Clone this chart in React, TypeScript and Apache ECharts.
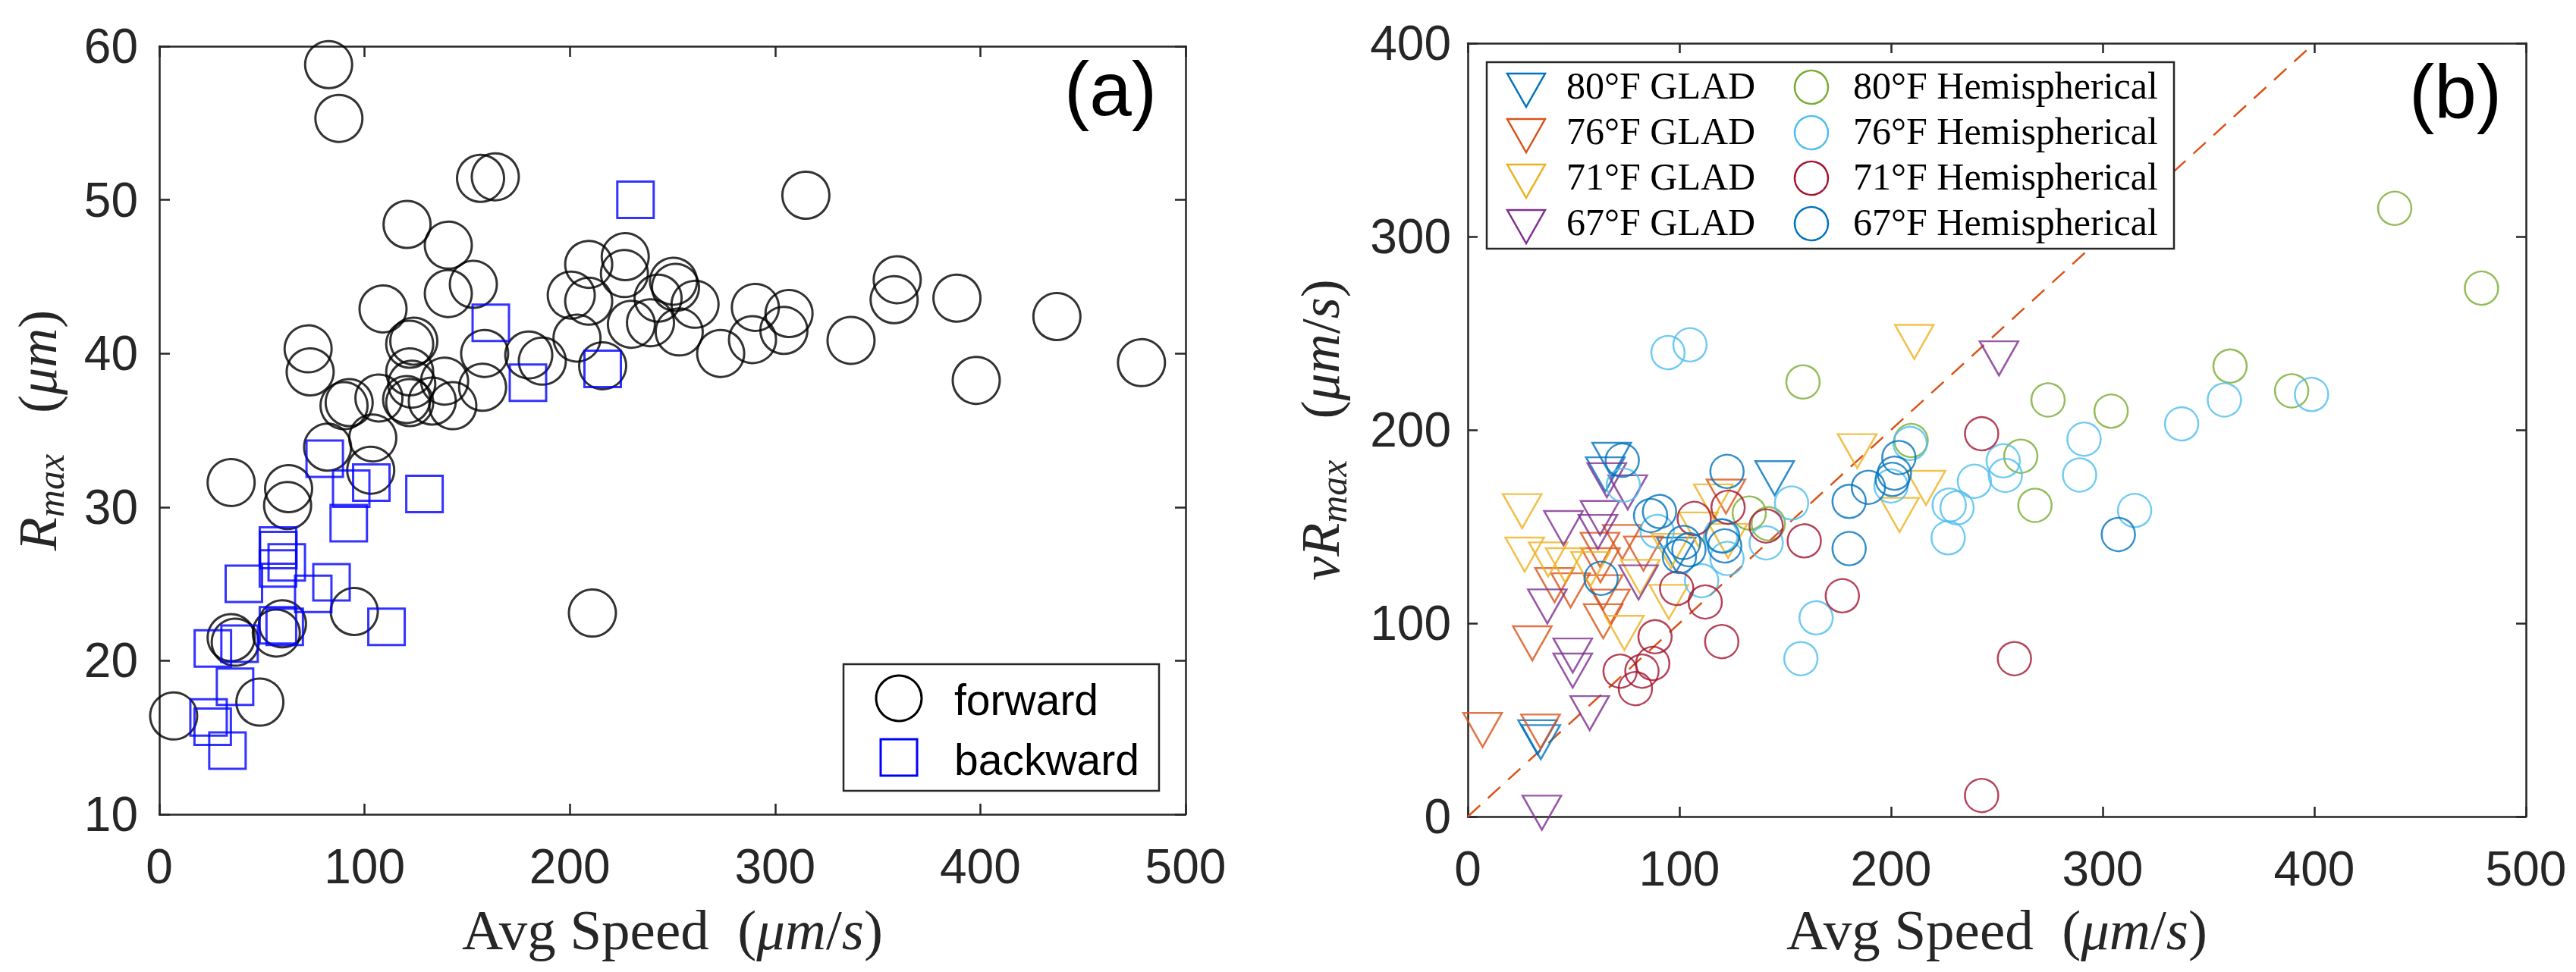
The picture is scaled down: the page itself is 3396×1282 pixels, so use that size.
import React, { useEffect, useRef } from "react";
import * as echarts from "echarts";

// ---------- Panel (a): R_max vs average speed ----------
const forwardPoints: [number, number][] = [
  [7, 16.4], [49, 17.3], [35, 21.5], [37, 21.2], [57, 21.8], [60, 22.4], [95, 23.2], [211, 23.1],
  [62.5, 30.1], [63, 31.2], [35, 31.6], [82, 33.9], [104, 34.5], [103, 32.4],
  [90, 36.6], [92.5, 36.8], [107, 37.1], [120.5, 37.0], [122, 36.8], [123, 38.0], [122, 38.8],
  [133, 36.9], [143, 36.6], [139, 38.2], [157.5, 37.8], [158.5, 40.0],
  [72.5, 40.3], [73.5, 38.8], [122, 40.6], [124, 40.8], [109, 42.9], [120.7, 48.4], [140.8, 47.05],
  [140.8, 43.9], [153, 44.5], [82.5, 58.8], [87.5, 55.3], [156.5, 51.4], [163.7, 51.5],
  [180, 39.9], [186.6, 39.5], [203.5, 41.0], [200.7, 43.8], [209.2, 45.8], [209.2, 43.4],
  [227, 46.3], [226.6, 45.2], [230, 41.9], [239.3, 42.0], [243, 43.6], [250.5, 44.7], [251.5, 44.3],
  [261, 43.2], [253.3, 41.4], [273.5, 40.0], [289, 40.9], [290.4, 43.0], [306.8, 42.6], [304.3, 41.5],
  [315, 50.3], [337, 40.85], [358, 43.5], [359.5, 44.8], [388.6, 43.6], [398, 38.25], [437.3, 42.4],
  [478.5, 39.4], [216, 39.2],
];
const backwardPoints: [number, number][] = [
  [232, 50.0], [161.5, 42.0], [179.6, 38.1], [216, 39.0], [80.6, 33.15], [93.5, 31.2], [103.3, 31.6],
  [129.2, 30.85], [92.3, 28.95], [57.8, 27.5], [58, 27.2], [57.8, 26.0], [62.1, 26.4], [41.2, 25.0],
  [83.9, 25.1], [75, 24.35], [57.8, 22.3], [61.1, 22.2], [110.7, 22.2], [26.1, 20.8], [39.1, 21.1],
  [36.9, 18.3], [24, 16.3], [26, 15.7], [33.2, 14.15],
];
const xRangeA = { min: 0, max: 500, interval: 100 };
const yRangeA = { min: 10, max: 60, interval: 10 };

// ---------- Panel (b): nu * R_max vs average speed ----------
const glad80: [number, number][] = [[68, 184.5], [65, 177], [145, 175], [98.5, 135.5], [33, 41], [34.5, 38.5]];
const glad76: [number, number][] = [
  [7, 44.8], [34.4, 44], [30.5, 89.6], [64, 101], [41, 119.7], [48.6, 117], [64, 116], [67.4, 108.6],
  [62.5, 138], [73, 142], [83, 136], [62.7, 130], [122, 165.5],
];
const glad71: [number, number][] = [
  [25.7, 158], [26.9, 135.5], [38, 133], [46, 130], [58, 128], [81.5, 124], [95, 111], [74, 95],
  [116, 163], [109, 148.5], [123, 142.6], [96, 137.4], [184, 189], [211, 245.5], [204, 156], [216.5, 170],
];
const glad67: [number, number][] = [
  [65.7, 174], [75.6, 167.7], [45.2, 149.2], [62.5, 154.4], [61.5, 147.2], [80.7, 121.1], [37.6, 108.7],
  [49.6, 83.3], [49.6, 75.5], [57.6, 53.5], [35, 2], [251, 237],
];
const hemi80: [number, number][] = [
  [133, 157], [142, 151.5], [158.4, 224.8], [209.5, 194.5], [261.3, 186.4], [268, 161], [274.2, 215.5],
  [304, 209.7], [360.2, 233], [389.3, 220.2], [438, 314.6], [479, 273.3],
];
const hemi76: [number, number][] = [
  [94.6, 240], [105, 244], [73.5, 171.4], [89.5, 147.5], [110.5, 122], [119.5, 145.3], [122.5, 133.5],
  [141, 141.6], [153, 162.2], [157.4, 81.7], [164.6, 102.8], [200, 171], [209, 193], [227, 144.2],
  [227.5, 161.1], [231.2, 159.7], [239.4, 173.4], [253, 184], [254, 176.5], [289.1, 176.7],
  [291.2, 195.2], [315.1, 158.3], [337.3, 203.1], [357.5, 215.5], [398.7, 218.3],
];
const hemi71: [number, number][] = [
  [72, 75.2], [79.2, 66.2], [82.3, 75.2], [87.4, 79.2], [88.5, 93], [98.7, 118], [112.2, 111],
  [107, 154.2], [123, 160], [141, 150.3], [120, 90.5], [159, 142.6], [177, 114.2], [242.8, 198],
  [258.3, 81.7], [242.8, 10.9],
];
const hemi67: [number, number][] = [
  [63, 123.2], [73, 184.3], [86.4, 155.7], [90.6, 157.8], [100, 134.5], [102, 141.8], [104.5, 138],
  [120.4, 145.1], [121.4, 140], [122.5, 178.5], [180.2, 163], [180.2, 138.6], [189.3, 170.3],
  [200.6, 174.4], [201.6, 177.6], [203.7, 185.7], [307.4, 145.9],
];
const identityLine: [number, number][] = [[0, 0], [400, 400]];
const xRangeB = { min: 0, max: 500, interval: 100 };
const yRangeB = { min: 0, max: 400, interval: 100 };

const gladNames = ["80°F GLAD", "76°F GLAD", "71°F GLAD", "67°F GLAD"];
const hemiNames = ["80°F Hemispherical", "76°F Hemispherical", "71°F Hemispherical", "67°F Hemispherical"];
const gladColors = ["#0072BD", "#D95319", "#EDB120", "#7E2F8E"];
const hemiColors = ["#77AC30", "#4DBEEE", "#A2142F", "#0072BD"];
const gladData = [glad80, glad76, glad71, glad67];
const hemiData = [hemi80, hemi76, hemi71, hemi67];

// ---------- styling ----------
const AX = "#262626";
const SANS = "'Liberation Sans', Arial, Helvetica, sans-serif";
const SERIF = "'Liberation Serif', 'Times New Roman', serif";

const gridA = { left: 210, top: 61, width: 1353, height: 1013 };
const gridB = { left: 1935, top: 57, width: 1395, height: 1020 };

function axis(gridIndex: number, range: any, position: string, showLabel: boolean, tickLen: number, labelMargin: number) {
  return {
    type: "value",
    gridIndex,
    position,
    min: range.min,
    max: range.max,
    interval: range.interval,
    axisLine: { show: true, onZero: false, lineStyle: { color: AX, width: 2.5 } },
    axisTick: { show: true, inside: true, length: tickLen, lineStyle: { color: AX, width: 2.5 } },
    axisLabel: {
      show: showLabel,
      showMinLabel: true,
      showMaxLabel: true,
      fontSize: 64,
      fontFamily: SANS,
      color: AX,
      margin: labelMargin,
    },
    splitLine: { show: false },
  };
}

function makeRich(size: number) {
  return {
    n: { fontFamily: SERIF, fontSize: size, lineHeight: size + 12, fill: AX },
    i: { fontFamily: SERIF, fontStyle: "italic", fontSize: size, lineHeight: size + 12, fill: AX },
    s: { fontFamily: SERIF, fontStyle: "italic", fontSize: Math.round(size * 0.7), lineHeight: 30, verticalAlign: "bottom", fill: AX },
  };
}

function titleText(x: number, y: number, text: string, size: number, rotation = 0) {
  return {
    type: "text",
    x,
    y,
    rotation,
    z: 100,
    style: {
      text,
      rich: makeRich(size),
      fill: AX,
      fontFamily: SERIF,
      fontSize: size,
      align: "center",
      verticalAlign: "middle",
      textAlign: "center",
      textVerticalAlign: "middle",
    },
  };
}

function plainText(x: number, y: number, text: string, fontSize: number, family: string, align = "left") {
  return {
    type: "text",
    x,
    y,
    z: 101,
    style: {
      text,
      fill: "#000",
      fontFamily: family,
      fontSize,
      align,
      verticalAlign: "middle",
      textAlign: align,
      textVerticalAlign: "middle",
    },
  };
}

function buildOption() {
  const series: any[] = [];
  series.push({
    type: "line",
    name: "identity",
    xAxisIndex: 2,
    yAxisIndex: 2,
    data: identityLine,
    symbol: "none",
    showSymbol: false,
    silent: true,
    z: 1,
    lineStyle: { color: "#D95319", width: 2.5, type: [22, 14] },
  });
  series.push({
    type: "scatter",
    name: "forward",
    xAxisIndex: 0,
    yAxisIndex: 0,
    data: forwardPoints,
    symbol: "circle",
    symbolSize: 62,
    clip: false,
    silent: true,
    itemStyle: { color: "rgba(0,0,0,0)", borderColor: "#000", borderWidth: 3 },
  });
  series.push({
    type: "scatter",
    name: "backward",
    xAxisIndex: 0,
    yAxisIndex: 0,
    data: backwardPoints,
    symbol: "rect",
    symbolSize: 48,
    clip: false,
    silent: true,
    itemStyle: { color: "rgba(0,0,0,0)", borderColor: "#0000FF", borderWidth: 3 },
  });
  gladData.forEach((d, k) => {
    series.push({
      type: "scatter",
      name: gladNames[k],
      xAxisIndex: 2,
      yAxisIndex: 2,
      data: d,
      symbol: "triangle",
      symbolRotate: 180,
      symbolKeepAspect: false,
      symbolSize: [51, 45],
      clip: false,
      silent: true,
      z: 3,
      itemStyle: { color: "rgba(0,0,0,0)", borderColor: gladColors[k], borderWidth: 2.5 },
    });
  });
  hemiData.forEach((d, k) => {
    series.push({
      type: "scatter",
      name: hemiNames[k],
      xAxisIndex: 2,
      yAxisIndex: 2,
      data: d,
      symbol: "circle",
      symbolSize: 44,
      clip: false,
      silent: true,
      z: 3,
      itemStyle: { color: "rgba(0,0,0,0)", borderColor: hemiColors[k], borderWidth: 2.5 },
    });
  });

  // legends and annotations
  const g: any[] = [];
  // legend (a)
  const la = { x: 1112, y: 876, w: 416, h: 167 };
  g.push({ type: "rect", z: 99, shape: { x: la.x, y: la.y, width: la.w, height: la.h }, style: { fill: "#fff", stroke: AX, lineWidth: 2.5 } });
  g.push({ type: "circle", z: 100, shape: { cx: la.x + 73, cy: la.y + 45, r: 30 }, style: { fill: "none", stroke: "#000", lineWidth: 3 } });
  g.push({ type: "rect", z: 100, shape: { x: la.x + 49, y: la.y + 99, width: 48, height: 48 }, style: { fill: "none", stroke: "#0000FF", lineWidth: 3 } });
  g.push(plainText(la.x + 146, la.y + 47, "forward", 57, SANS));
  g.push(plainText(la.x + 146, la.y + 126, "backward", 57, SANS));

  // legend (b)
  const lb = { x: 1960, y: 82, w: 906, h: 246 };
  g.push({ type: "rect", z: 99, shape: { x: lb.x, y: lb.y, width: lb.w, height: lb.h }, style: { fill: "#fff", stroke: AX, lineWidth: 2.5 } });
  for (let k = 0; k < 4; k++) {
    const rowY = lb.y + 31 + 60 * k;
    const cx = lb.x + 52;
    const ty = rowY + 6;
    g.push({
      type: "polygon",
      z: 100,
      shape: { points: [[cx - 25, ty - 22], [cx + 25, ty - 22], [cx, ty + 22]] },
      style: { fill: "none", stroke: gladColors[k], lineWidth: 2.5 },
    });
    g.push(plainText(lb.x + 105, rowY, gladNames[k], 50, SERIF));
    g.push({ type: "circle", z: 100, shape: { cx: lb.x + 428, cy: rowY + 2, r: 22 }, style: { fill: "none", stroke: hemiColors[k], lineWidth: 2.5 } });
    g.push(plainText(lb.x + 483, rowY, hemiNames[k], 50, SERIF));
  }

  // panel tags
  g.push(plainText(1464, 117, "(a)", 100, SANS, "center"));
  g.push(plainText(3237, 121, "(b)", 100, SANS, "center"));

  // axis titles
  const xTitle = "{n|Avg Speed  (}{i|μm}{n|/}{i|s}{n|)}";
  g.push(titleText(gridA.left + gridA.width / 2, 1226, xTitle, 75));
  g.push(titleText(gridB.left + gridB.width / 2, 1226, xTitle, 75));
  g.push(titleText(50, gridA.top + gridA.height / 2, "{i|R}{s|max}{n|   (}{i|μm}{n|)}", 72, Math.PI / 2));
  g.push(titleText(1741, gridB.top + gridB.height / 2, "{i|νR}{s|max}{n|   (}{i|μm}{n|/}{i|s}{n|)}", 72, Math.PI / 2));

  return {
    animation: false,
    backgroundColor: "#fff",
    grid: [
      { ...gridA, containLabel: false },
      { ...gridB, containLabel: false },
    ],
    xAxis: [
      axis(0, xRangeA, "bottom", true, 14, 37),
      axis(0, xRangeA, "top", false, 14, 8),
      axis(1, xRangeB, "bottom", true, 13, 37),
      axis(1, xRangeB, "top", false, 13, 8),
    ],
    yAxis: [
      axis(0, yRangeA, "left", true, 14, 28),
      axis(0, yRangeA, "right", false, 14, 8),
      axis(1, yRangeB, "left", true, 13, 22),
      axis(1, yRangeB, "right", false, 13, 8),
    ],
    series,
    graphic: { elements: g },
  };
}

export default function App() {
  const ref = useRef<HTMLDivElement>(null);
  useEffect(() => {
    if (!ref.current) return;
    const chart = echarts.init(ref.current, null, { renderer: "svg" });
    chart.setOption(buildOption() as any);
    return () => chart.dispose();
  }, []);
  return (
    <div
      ref={ref}
      style={{ position: "absolute", left: 0, top: 0, width: 3396, height: 1282, background: "#fff" }}
    />
  );
}
